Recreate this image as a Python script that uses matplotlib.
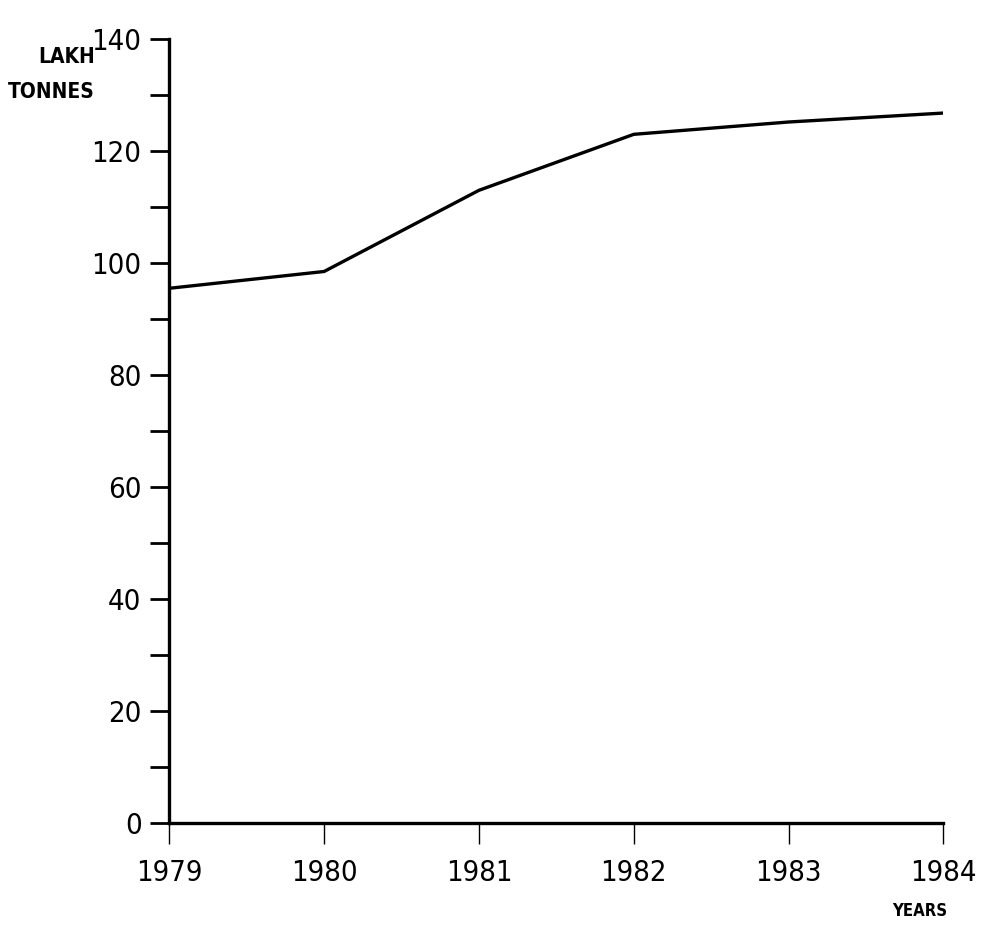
import matplotlib
matplotlib.use("Agg")
import matplotlib.pyplot as plt
from matplotlib.ticker import MultipleLocator

# production in lakh tonnes
years = [1979, 1980, 1981, 1982, 1983, 1984]
lakh_tonnes = [95.5, 98.5, 113.0, 123.0, 125.2, 126.8]
y_labels = [0, 20, 40, 60, 80, 100, 120, 140]

font = dict(family="DejaVu Sans", stretch="condensed")

fig = plt.figure(figsize=(9.9, 9.32), dpi=100)
ax = fig.add_axes([0.171, 0.117, 0.782, 0.841])

ax.plot(years, lakh_tonnes, color="black", lw=2.4, solid_joinstyle="miter")

ax.set_xlim(years[0], years[-1])
ax.set_ylim(0, 140)
ax.spines["top"].set_visible(False)
ax.spines["right"].set_visible(False)
for s in ("left", "bottom"):
    ax.spines[s].set_linewidth(2.4)

ax.set_xticks(years)
ax.set_xticklabels([str(y) for y in years], fontsize=21, **font)
ax.set_yticks(y_labels)
ax.set_yticklabels([str(v) for v in y_labels], fontsize=21, **font)
ax.yaxis.set_minor_locator(MultipleLocator(10))

ax.tick_params(axis="y", which="both", direction="out", length=14, width=2.0, pad=6)
ax.tick_params(axis="x", direction="out", length=15, width=1.0, pad=11)

fig.text(0.096, 0.939, "LAKH", fontsize=15, fontweight="bold",
         ha="right", va="center", **font)
fig.text(0.096, 0.901, "TONNES", fontsize=15, fontweight="bold",
         ha="right", va="center", **font)
fig.text(0.957, 0.022, "YEARS", fontsize=12, fontweight="bold",
         ha="right", va="center", **font)

fig.savefig("out.png", dpi=100, facecolor="white")
